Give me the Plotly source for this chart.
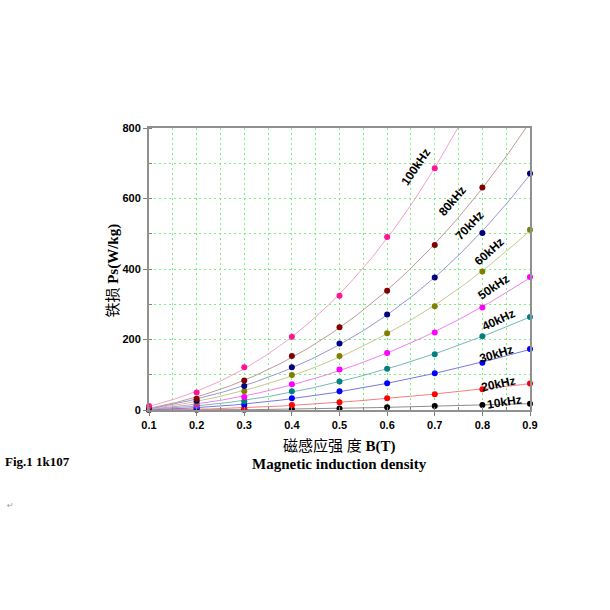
import numpy as np
import plotly.graph_objects as go

B = [0.1, 0.2, 0.3, 0.4, 0.5, 0.6, 0.7, 0.8, 0.9]

labels = ["10kHz", "20kHz", "30kHz", "40kHz", "50kHz", "60kHz", "70kHz", "80kHz", "100kHz"]

ps_10k = [0.2, 0.5, 1, 2, 4, 8, 11, 14, 18]
ps_20k = [1, 2, 5, 14, 22, 33, 45, 59, 75]
ps_30k = [2, 6, 15, 33, 53, 76, 104, 134, 173]
ps_40k = [3, 11, 25, 53, 81, 117, 158, 209, 264]
ps_50k = [4, 15, 37, 73, 115, 162, 220, 291, 377]
ps_60k = [5, 21, 53, 99, 153, 218, 294, 393, 511]
ps_70k = [6, 26, 68, 121, 189, 271, 376, 502, 671]
ps_80k = [7, 32, 84, 153, 235, 338, 468, 631]
ps_100k = [11, 50, 121, 208, 324, 491, 686]

series = [ps_10k, ps_20k, ps_30k, ps_40k, ps_50k, ps_60k, ps_70k, ps_80k, ps_100k]

marker_colors = ["#000000", "#FF0000", "#0000FF", "#008080", "#FF00FF",
                 "#808000", "#000080", "#800000", "#FF1493"]
line_colors = ["#8C8C8C", "#F08080", "#7878E0", "#78B8B8", "#F080F0",
               "#C8C890", "#9898D0", "#C09898", "#F0A0D0"]

# label placement (data coords) and rotation
lab_x = [0.846, 0.833, 0.829, 0.833, 0.823, 0.816, 0.774, 0.737, 0.660]
lab_y = [23, 73, 159, 256, 350, 450, 525, 593, 690]
lab_rot = [-9, -12, -17, -25, -34, -42, -46, -50, -56]

fig = go.Figure()
xf = np.linspace(0.1, 0.9, 200)
for i, ys in enumerate(series):
    xs = np.array(B[:len(ys)])
    coef = np.polyfit(xs, np.array(ys, dtype=float), 3)
    yf = np.clip(np.polyval(coef, xf), 0, None)
    fig.add_trace(go.Scatter(x=xf, y=yf, mode="lines",
                             line=dict(color=line_colors[i], width=1),
                             showlegend=False, hoverinfo="skip"))
for i, ys in enumerate(series):
    fig.add_trace(go.Scatter(x=B[:len(ys)], y=ys, mode="markers",
                             marker=dict(color=marker_colors[i], size=6),
                             cliponaxis=False, showlegend=False, name=labels[i]))

for i in range(len(labels)):
    fig.add_annotation(x=lab_x[i], y=lab_y[i], text=labels[i], showarrow=False,
                       textangle=lab_rot[i],
                       font=dict(family="Liberation Sans, Arial", size=12, color="#000000", weight="bold"))

grid_c = "#7CF07C"
gdash = "2px,3px"
fig.update_xaxes(range=[0.1, 0.9], dtick=0.1, tick0=0.1, showline=True, linecolor="#909090",
                 linewidth=2, mirror=True, ticks="outside", ticklen=4, tickcolor="#808080",
                 showgrid=True, gridcolor=grid_c, griddash=gdash, gridwidth=1,
                 minor=dict(dtick=0.05, tick0=0.1, showgrid=True, gridcolor=grid_c, griddash=gdash,
                            ticks="inside", ticklen=3, tickcolor="#808080"),
                 tickfont=dict(family="Liberation Sans, Arial", size=11, color="#000000", weight="bold"),
                 zeroline=False, tickformat=".1f")
fig.update_yaxes(range=[0, 800], dtick=200, showline=True, linecolor="#909090",
                 linewidth=2, mirror=True, ticks="outside", ticklen=4, tickcolor="#808080",
                 showgrid=True, gridcolor=grid_c, griddash=gdash, gridwidth=1,
                 minor=dict(dtick=100, showgrid=True, gridcolor=grid_c, griddash=gdash,
                            ticks="inside", ticklen=3, tickcolor="#808080"),
                 tickfont=dict(family="Liberation Sans, Arial", size=11, color="#000000", weight="bold"),
                 zeroline=False)

fig.add_annotation(xref="paper", yref="paper", x=-0.094, y=0.495, showarrow=False,
                   textangle=-90, xanchor="center", yanchor="middle",
                   text="铁损 <b>Ps(W/kg)</b>",
                   font=dict(family="Liberation Serif, Noto Sans CJK SC", size=15, color="#000000"))
fig.add_annotation(xref="paper", yref="paper", x=0.5, y=-0.128, yanchor="middle", showarrow=False,
                   text="磁感应强 度 <b>B(T)</b>",
                   font=dict(family="Liberation Serif, Noto Sans CJK SC", size=15, color="#000000"))
fig.add_annotation(xref="paper", yref="paper", x=0.5, y=-0.193, yanchor="middle", showarrow=False,
                   text="<b>Magnetic induction density</b>",
                   font=dict(family="Liberation Serif", size=15, color="#000000"))
fig.add_annotation(xref="paper", yref="paper", x=-0.382, y=-0.184, xanchor="left", yanchor="middle",
                   showarrow=False, text="<b>Fig.1 1k107</b>",
                   font=dict(family="Liberation Serif", size=13, color="#000000"))
fig.add_annotation(xref="paper", yref="paper", x=-0.378, y=-0.34, xanchor="left", yanchor="middle",
                   showarrow=False, text="↵",
                   font=dict(family="DejaVu Sans", size=8, color="#999999"))

fig.update_layout(width=610, height=610, margin=dict(l=149, r=80, t=128, b=200),
                  paper_bgcolor="white", plot_bgcolor="white")
fig.write_html("out.html")
